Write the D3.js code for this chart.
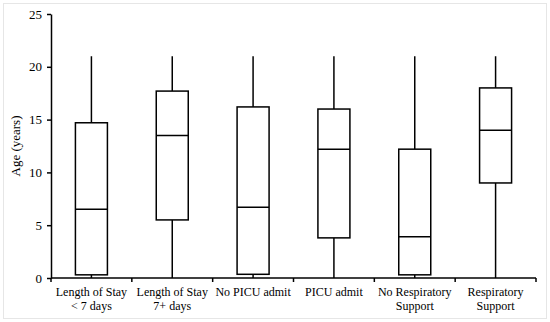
<!DOCTYPE html>
<html>
<head>
<meta charset="utf-8">
<script src="https://cdn.jsdelivr.net/npm/d3@7"></script>
<style>
  body { margin: 0; background: #fff; }
  svg { display: block; }
  text { font-family: "Liberation Serif", "Times New Roman", serif; fill: #000; }
</style>
</head>
<body>
<svg width="550" height="322"></svg>
<script>
const categories = [
  ['Length of Stay', '< 7 days'],
  ['Length of Stay', '7+ days'],
  ['No PICU admit'],
  ['PICU admit'],
  ['No Respiratory', 'Support'],
  ['Respiratory', 'Support']
];
const mins    = [0, 0, 0, 0, 0, 0];
const q1s     = [0.3, 5.5, 0.35, 3.8, 0.3, 9.0];
const medians = [6.5, 13.5, 6.7, 12.2, 3.9, 14.0];
const q3s     = [14.7, 17.7, 16.2, 16.0, 12.2, 18.0];
const maxs    = [21, 21, 21, 21, 21, 21];
const yTicks  = [0, 5, 10, 15, 20, 25];

const data = categories.map((c, i) => ({
  key: i, label: c, min: mins[i], q1: q1s[i], median: medians[i], q3: q3s[i], max: maxs[i]
}));

const margin = { left: 51, right: 14, top: 14, bottom: 44 };
const svg = d3.select('svg');
const width = +svg.attr('width');
const height = +svg.attr('height');
const innerWidth = width - margin.left - margin.right;
const innerHeight = height - margin.top - margin.bottom;

// faint frame round the figure
svg.append('rect')
  .attr('x', 3.5).attr('y', 3.5)
  .attr('width', width - 7).attr('height', height - 7)
  .attr('fill', 'none').attr('stroke', '#e6e6e6');

const g = svg.append('g')
  .attr('transform', `translate(${margin.left}, ${margin.top})`);

const xScale = d3.scaleBand()
  .domain(data.map(d => d.key))
  .range([0, innerWidth]);
const yScale = d3.scaleLinear()
  .domain([0, 25])
  .range([innerHeight, 0]);

const boxW = 32;

// y axis
const yAxisG = g.append('g')
  .call(d3.axisLeft(yScale).tickValues(yTicks).tickSize(4).tickSizeOuter(0))
  .attr('font-family', '"Liberation Serif", serif')
  .attr('font-size', 13);
yAxisG.select('.domain').attr('stroke-width', 1.5);
yAxisG.selectAll('.tick line').attr('stroke-width', 1.5);
yAxisG.selectAll('.tick text').attr('x', -9);

// x axis with ticks at band edges
const xAxisG = g.append('g').attr('transform', `translate(0, ${innerHeight})`);
xAxisG.append('line')
  .attr('x1', 0).attr('x2', innerWidth)
  .attr('stroke', '#000').attr('stroke-width', 1.5);
const edges = data.map(d => xScale(d.key)).concat([innerWidth]);
xAxisG.selectAll('line.edge').data(edges).enter().append('line')
  .attr('class', 'edge')
  .attr('x1', d => d).attr('x2', d => d)
  .attr('y1', 0).attr('y2', 4)
  .attr('stroke', '#000').attr('stroke-width', 1.5);

// one text per label line
const lines = data.flatMap(d => d.label.map((t, i) => ({ key: d.key, t, i })));
xAxisG.selectAll('text.cat').data(lines).enter().append('text')
  .attr('class', 'cat')
  .attr('text-anchor', 'middle')
  .attr('x', d => xScale(d.key) + xScale.bandwidth() / 2)
  .attr('y', d => 18 + d.i * 14)
  .attr('font-size', 12)
  .text(d => d.t);

// y label
g.append('text')
  .attr('transform', `translate(-31, ${innerHeight / 2}) rotate(-90)`)
  .attr('text-anchor', 'middle')
  .attr('font-size', 13)
  .text('Age (years)');

// boxes
const boxes = g.selectAll('g.box').data(data).enter().append('g')
  .attr('class', 'box')
  .attr('transform', d => `translate(${xScale(d.key) + xScale.bandwidth() / 2}, 0)`);

boxes.append('line')
  .attr('y1', d => yScale(d.q3)).attr('y2', d => yScale(d.max))
  .attr('stroke', '#000').attr('stroke-width', 1.5);
boxes.append('line')
  .attr('y1', d => yScale(d.q1)).attr('y2', d => yScale(d.min))
  .attr('stroke', '#000').attr('stroke-width', 1.5);
boxes.append('rect')
  .attr('x', -boxW / 2).attr('width', boxW)
  .attr('y', d => yScale(d.q3))
  .attr('height', d => yScale(d.q1) - yScale(d.q3))
  .attr('fill', '#fff').attr('stroke', '#000').attr('stroke-width', 1.5);
boxes.append('line')
  .attr('x1', -boxW / 2).attr('x2', boxW / 2)
  .attr('y1', d => yScale(d.median)).attr('y2', d => yScale(d.median))
  .attr('stroke', '#000').attr('stroke-width', 1.5);
</script>
</body>
</html>
